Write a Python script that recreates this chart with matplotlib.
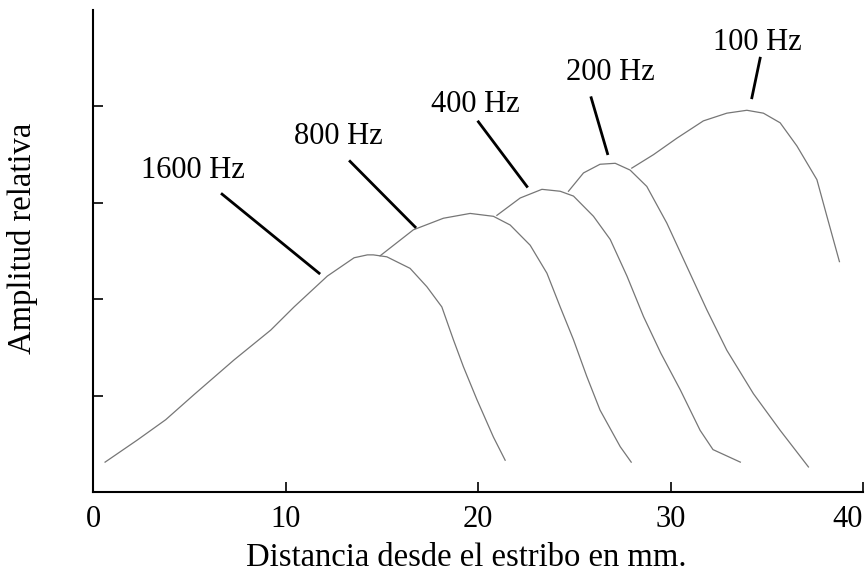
import matplotlib.pyplot as plt

plt.rcParams['font.family'] = ['Liberation Serif', 'DejaVu Serif']

# curvas de amplitud relativa (distancia mm, amplitud)
x_1600 = [0.61, 2.29, 3.76, 5.23, 7.31, 9.22, 10.43, 12.16, 13.55, 14.24, 14.55, 15.25,
          16.46, 17.33, 18.11, 18.71, 19.23, 19.93, 20.79, 21.40]
y_1600 = [0.31, 0.54, 0.75, 1.01, 1.37, 1.68, 1.92, 2.24, 2.43, 2.46, 2.46, 2.44,
          2.32, 2.13, 1.92, 1.58, 1.30, 0.96, 0.57, 0.33]

x_800 = [14.90, 16.63, 18.19, 19.58, 20.79, 21.66, 22.70, 23.57, 24.26, 24.95, 25.64,
         26.33, 27.38, 27.95]
y_800 = [2.45, 2.72, 2.84, 2.89, 2.86, 2.77, 2.56, 2.27, 1.92, 1.58, 1.20,
         0.85, 0.47, 0.31]

x_400 = [20.97, 22.18, 23.31, 24.26, 24.95, 25.99, 26.86, 27.73, 28.59, 29.49, 30.50,
         31.53, 32.20, 33.62]
y_400 = [2.87, 3.05, 3.14, 3.12, 3.07, 2.86, 2.62, 2.24, 1.82, 1.44, 1.06,
         0.64, 0.44, 0.31]

x_200 = [24.69, 25.47, 26.33, 27.12, 27.89, 28.76, 29.80, 30.84, 31.88, 32.92, 34.30,
         35.69, 37.16]
y_200 = [3.12, 3.31, 3.40, 3.41, 3.34, 3.17, 2.79, 2.34, 1.89, 1.47, 1.02,
         0.64, 0.26]

x_100 = [27.98, 29.11, 30.32, 31.70, 32.92, 33.96, 34.82, 35.69, 36.56, 37.60, 38.12, 38.77]
y_100 = [3.36, 3.50, 3.67, 3.85, 3.93, 3.96, 3.93, 3.83, 3.59, 3.24, 2.86, 2.39]

# etiquetas: texto, posicion del texto, linea guia (x0, y0, x1, y1)
labels = ['1600 Hz', '800 Hz', '400 Hz', '200 Hz', '100 Hz']
label_pos = [(5.18, 3.34), (12.72, 3.69), (19.84, 4.02), (26.86, 4.35), (34.50, 4.66)]
leaders = [(6.69, 3.09, 11.73, 2.27), (13.34, 3.43, 16.72, 2.75), (20.01, 3.84, 22.53, 3.17),
           (25.87, 4.09, 26.72, 3.51), (34.65, 4.50, 34.22, 4.09)]

x_ticks = [0, 10, 20, 30, 40]

fig = plt.figure(figsize=(8.65, 5.76), dpi=100)
ax = fig.add_axes([0.1079, 0.1458, 0.8899, 0.8368])

for xs, ys in [(x_1600, y_1600), (x_800, y_800), (x_400, y_400), (x_200, y_200), (x_100, y_100)]:
    ax.plot(xs, ys, color='#767676', lw=0.9)

for txt, (tx, ty), (x0, y0, x1, y1) in zip(labels, label_pos, leaders):
    ax.plot([x0, x1], [y0, y1], color='black', lw=2)
    ax.text(tx, ty, txt, fontsize=22, ha='center', va='center')

ax.set_xlim(0, 40)
ax.set_ylim(0, 5)
ax.set_xticks(x_ticks)
ax.set_yticks([1, 2, 3, 4])
ax.set_yticklabels([])
ax.tick_params(direction='in', length=7, width=1.2, labelsize=22)
ax.tick_params(axis='x', pad=9)
ax.get_xticklabels()[-1].set_horizontalalignment('right')
ax.spines['top'].set_visible(False)
ax.spines['right'].set_visible(False)
ax.spines['left'].set_linewidth(1.5)
ax.spines['bottom'].set_linewidth(1.5)

ax.set_xlabel('Distancia desde el estribo en mm.', fontsize=23.5)
ax.set_ylabel('Amplitud relativa', fontsize=23.5)
ax.xaxis.set_label_coords(0.484, -0.104)
ax.yaxis.set_label_coords(-0.0725, 0.527)

fig.savefig('out.png', dpi=100)
